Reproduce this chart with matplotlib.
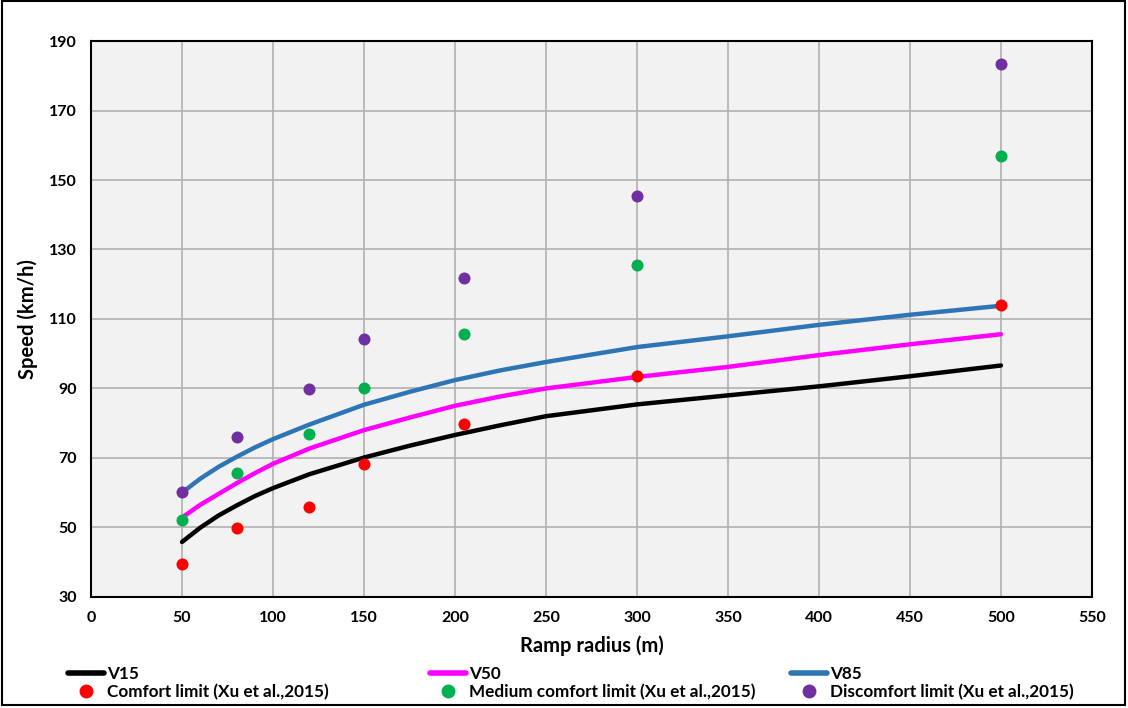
import numpy as np
import matplotlib
matplotlib.use("Agg")
import matplotlib.pyplot as plt
from matplotlib.lines import Line2D
from matplotlib.patches import Rectangle

plt.rcParams['font.family'] = ['Lato', 'DejaVu Sans']
plt.rcParams['font.weight'] = 'bold'

# speed curves
radius_curve = [50, 60, 70, 80, 90, 100, 120, 150, 175, 200, 225, 250, 300, 350, 400, 450, 500]
v15 = [45.8, 49.9, 53.4, 56.3, 59.0, 61.3, 65.3, 70.1, 73.5, 76.6, 79.4, 82.0, 85.4, 88.0, 90.6, 93.5, 96.6]
v50 = [52.8, 56.5, 59.6, 62.7, 65.6, 68.3, 72.7, 78.0, 81.6, 85.0, 87.7, 90.0, 93.3, 96.2, 99.6, 102.7, 105.6]
v85 = [60.0, 64.0, 67.4, 70.3, 73.0, 75.4, 79.6, 85.3, 89.0, 92.4, 95.2, 97.6, 101.9, 105.0, 108.3, 111.2, 113.8]

# comfort limits (Xu et al., 2015)
radius_pts = [50, 80, 120, 150, 205, 300, 500]
comfort = [39.5, 49.9, 55.9, 68.3, 79.8, 93.6, 114.0]
medium = [52.2, 65.7, 76.9, 90.1, 105.7, 125.5, 156.9]
discomfort = [60.2, 76.0, 89.9, 104.2, 121.8, 145.4, 183.4]

fig = plt.figure(figsize=(11.28, 7.08), dpi=100)
ax = fig.add_axes([0.0807, 0.157, 0.8873, 0.785])
ax.set_facecolor('#f2f2f2')

ax.plot(radius_curve, v15, color='black', lw=3.2, solid_capstyle='round', zorder=3)
ax.plot(radius_curve, v50, color='#ff00ff', lw=3.2, solid_capstyle='round', zorder=3)
ax.plot(radius_curve, v85, color='#2e75b6', lw=3.2, solid_capstyle='round', zorder=3)

ms = 75
ax.scatter(radius_pts, comfort, s=ms, color='#ff0000', zorder=4, linewidths=0)
ax.scatter(radius_pts, medium, s=ms, color='#00b050', zorder=4, linewidths=0)
ax.scatter(radius_pts, discomfort, s=ms, color='#7030a0', zorder=4, linewidths=0)

ax.set_xlim(0, 550)
ax.set_ylim(30, 190)
ax.set_xticks(np.arange(0, 551, 50))
ax.set_yticks(np.arange(30, 191, 20))
ax.grid(True, color='#b0b0b0', lw=1.2, zorder=0)
ax.set_axisbelow(True)
ax.tick_params(length=0, labelsize=11.5, pad=10)
for s in ax.spines.values():
    s.set_color('black')
    s.set_linewidth(1.5)

ax.set_xlabel('Ramp radius (m)', fontsize=14.5, fontweight='bold', labelpad=8)
ax.set_ylabel('Speed (km/h)', fontsize=14.5, fontweight='bold', labelpad=8)

# legend: three columns of two entries each
names = [('V15', 'black', 'Comfort limit (Xu et al.,2015)', '#ff0000'),
         ('V50', '#ff00ff', 'Medium comfort limit (Xu et al.,2015)', '#00b050'),
         ('V85', '#2e75b6', 'Discomfort limit (Xu et al.,2015)', '#7030a0')]
xpos = [0.060, 0.381, 0.701]
for (ln, lc, pn, pc), x0 in zip(names, xpos):
    h = [Line2D([], [], color=lc, lw=4, solid_capstyle='round'),
         Line2D([], [], color=pc, marker='o', ls='none', markersize=9)]
    fig.legend(h, [ln, pn], loc='upper left', bbox_to_anchor=(x0, 0.06),
               frameon=False, fontsize=12.3, handlelength=2.1, handletextpad=0.2,
               labelspacing=0.15, borderpad=0, borderaxespad=0)

fig.patches.append(Rectangle((0.002, 0.004), 0.995, 0.994, transform=fig.transFigure,
                             fill=False, edgecolor='black', lw=1.5))

fig.savefig('out.png', dpi=100)
